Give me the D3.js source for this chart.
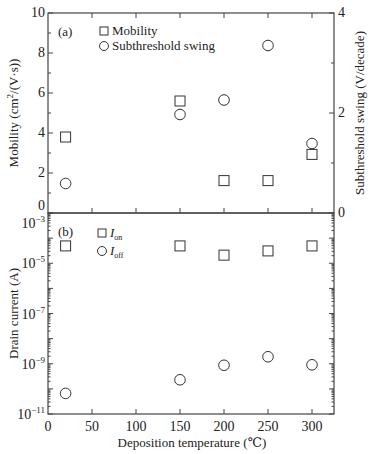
<!DOCTYPE html>
<html>
<head>
<meta charset="utf-8">
<script src="https://cdn.jsdelivr.net/npm/d3@7"></script>
<style>
  body { margin: 0; background: #fff; }
  svg text { font-family: "Liberation Serif", "Times New Roman", "DejaVu Serif", serif; }
</style>
</head>
<body>
<svg id="viz" width="374" height="454"></svg>
<script>
// deposition temperatures (°C)
const temps = [20, 150, 200, 250, 300];
// panel (a)
const mobility = [3.8, 5.6, 1.62, 1.62, 2.93];
const swing = [0.59, 1.97, 2.26, 3.35, 1.39];
// panel (b)
const ion = [4.9e-5, 4.9e-5, 2.1e-5, 3.1e-5, 4.9e-5];
const ioff = [6.6e-11, 2.3e-10, 8.7e-10, 1.9e-9, 9.1e-10];

const xTicks = [0, 50, 100, 150, 200, 250, 300];
const mobTicks = [0, 2, 4, 6, 8, 10];
const swingTicks = [0, 2, 4];
const logLabels = [-3, -5, -7, -9, -11];

const axisColor = "#444";
const markColor = "#333";
const serif = "'Liberation Serif', 'Times New Roman', 'DejaVu Serif', serif";

const svg = d3.select("#viz");
const left = 48, right = 334;
const aTop = 13, aBot = 213, bTop = 213, bBot = 414;

const x = d3.scaleLinear().domain([0, 325]).range([left, right]);
const yMob = d3.scaleLinear().domain([0, 10]).range([aBot, aTop]);
const ySw = d3.scaleLinear().domain([0, 4]).range([aBot, aTop]);
const yCur = d3.scaleLog().domain([1e-11, 1e-3]).range([bBot, bTop]);

// frames
[[aTop, aBot], [bTop, bBot]].forEach(([t, b]) => {
  svg.append("rect")
    .attr("x", left).attr("y", t)
    .attr("width", right - left).attr("height", b - t)
    .attr("fill", "none").attr("stroke", axisColor).attr("stroke-width", 1.2);
});

function tick(x1, y1, x2, y2) {
  svg.append("line")
    .attr("x1", x1).attr("y1", y1).attr("x2", x2).attr("y2", y2)
    .attr("stroke", axisColor).attr("stroke-width", 1);
}

function label(px, py, anchor) {
  return svg.append("text")
    .attr("x", px).attr("y", py)
    .attr("text-anchor", anchor || "start")
    .attr("font-family", serif)
    .attr("font-size", 13)
    .attr("fill", "#222");
}

// x ticks (inward) on top of (a), bottom of (a), bottom of (b)
xTicks.slice(1).forEach(v => {
  tick(x(v), aTop, x(v), aTop + 5);
  tick(x(v), aBot, x(v), aBot - 5);
  tick(x(v), bBot, x(v), bBot - 5);
});

// x tick labels
xTicks.forEach(d => label(x(d), 431, "middle").attr("font-size", 14).text(d));

// mobility axis (left of a)
d3.range(0, 11).forEach(v => {
  const len = v % 2 === 0 ? 5 : 3;
  tick(left, yMob(v), left + len, yMob(v));
});
mobTicks.forEach(d => label(left - 3, yMob(d) + (d === 0 ? -3 : 4), "end").attr("font-size", 14).text(d));

// swing axis (right of a)
d3.range(0, 5).forEach(v => {
  const len = v % 2 === 0 ? 5 : 3;
  tick(right, ySw(v), right - len, ySw(v));
});
swingTicks.forEach(d => label(right + 4, ySw(d) + 4, "start").attr("font-size", 14).text(d));

// log axis ticks (both sides of b)
for (let e = -11; e < -3; e++) {
  for (let m = 1; m < 10; m++) {
    const yv = yCur(m * Math.pow(10, e));
    const len = m === 1 ? 5 : 2.5;
    tick(left, yv, left + len, yv);
    tick(right, yv, right - len, yv);
  }
}
tick(left, yCur(1e-3), left + 5, yCur(1e-3));

logLabels.forEach(d => {
  const t = label(left - 3, yCur(Math.pow(10, d)) + (d === -3 ? 15 : 5), "end").attr("font-size", 14);
  t.append("tspan").text("10");
  t.append("tspan").attr("dy", -6).attr("font-size", 9).text("\u2212" + Math.abs(d));
});

// axis titles
label(0, 0, "middle")
  .attr("transform", `translate(18,${(aTop + aBot) / 2}) rotate(-90)`)
  .call(t => {
    t.append("tspan").text("Mobility (cm");
    t.append("tspan").attr("dy", -5).attr("font-size", 9).text("2");
    t.append("tspan").attr("dy", 5).text("/(V\u00b7s))");
  });
label(0, 0, "middle")
  .attr("transform", `translate(18,${(bTop + bBot) / 2}) rotate(-90)`)
  .text("Drain current (A)");
label(0, 0, "middle")
  .attr("transform", `translate(364,${(aTop + aBot) / 2}) rotate(-90)`)
  .text("Subthreshold swing (V/decade)");
label((left + right) / 2 + 1, 447, "middle")
  .text("Deposition temperature (\u2103)");

// markers
function square(cx, cy, s) {
  svg.append("rect")
    .attr("x", cx - s / 2).attr("y", cy - s / 2).attr("width", s).attr("height", s)
    .attr("fill", "none").attr("stroke", markColor).attr("stroke-width", 1);
}
function circle(cx, cy, r) {
  svg.append("circle")
    .attr("cx", cx).attr("cy", cy).attr("r", r)
    .attr("fill", "none").attr("stroke", markColor).attr("stroke-width", 1);
}

temps.forEach((t, i) => {
  square(x(t), yMob(mobility[i]), 10);
  circle(x(t), ySw(swing[i]), 5.3);
  square(x(t), yCur(ion[i]), 10);
  circle(x(t), yCur(ioff[i]), 5.3);
});

// panel labels and legends
label(58, 36).text("(a)");
label(58, 236).text("(b)");

square(104, 31, 8);
label(112, 35).text("Mobility");
circle(104, 46, 4.5);
label(112, 50).text("Subthreshold swing");

square(102, 233, 8);
label(110, 237).call(t => {
  t.append("tspan").attr("font-style", "italic").text("I");
  t.append("tspan").attr("dy", 3).attr("font-size", 8).text("on");
});
circle(102, 251, 4.5);
label(110, 255).call(t => {
  t.append("tspan").attr("font-style", "italic").text("I");
  t.append("tspan").attr("dy", 3).attr("font-size", 8).text("off");
});
</script>
</body>
</html>
